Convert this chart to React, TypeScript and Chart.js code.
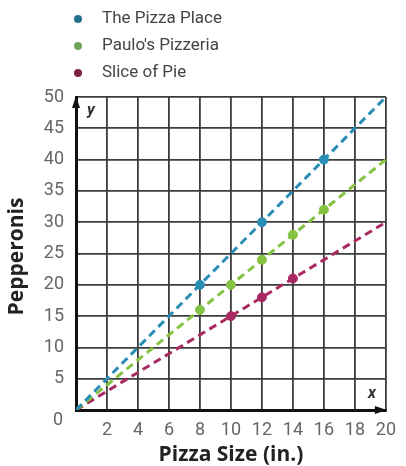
import { useEffect, useRef } from 'react';
import { Chart, registerables } from 'chart.js';

Chart.register(...registerables);

// Series
const seriesNames = ['The Pizza Place', "Paulo's Pizzeria", 'Slice of Pie'];
const seriesColors = ['#2a8db3', '#84c341', '#a92a62'];
const legendDotColors = ['#236f8c', '#6fa35a', '#7e2348'];

// Plotted pairs (pizza size in inches, pepperonis)
const pizzaPlaceSizes = [8, 12, 16];
const pizzaPlacePepperonis = [20, 30, 40];
const paulosSizes = [8, 10, 12, 14, 16];
const paulosPepperonis = [16, 20, 24, 28, 32];
const sliceSizes = [10, 12, 14];
const slicePepperonis = [15, 18, 21];

// Dashed rate lines through the origin
const lineSizes = [0, 20];
const pizzaPlaceLine = [0, 50];
const paulosLine = [0, 40];
const sliceLine = [0, 30];

// Axes
const xTicks = [2, 4, 6, 8, 10, 12, 14, 16, 18, 20];
const yTicks = [5, 10, 15, 20, 25, 30, 35, 40, 45, 50];
const xTitle = 'Pizza Size (in.)';
const yTitle = 'Pepperonis';

const FONT = 'Roboto, "Open Sans", sans-serif';
const TITLE_FONT = '"Open Sans", Roboto, sans-serif';

const pairs = (xs: number[], ys: number[]) => xs.map((x, i) => ({ x, y: ys[i] }));

const decorPlugin = {
  id: 'decor',
  afterDraw(chart: any) {
    const { ctx, chartArea } = chart;
    const { left, right, top, bottom } = chartArea;
    ctx.save();

    // arrow heads on the axes
    ctx.fillStyle = '#111';
    ctx.beginPath();
    ctx.moveTo(left, top - 1);
    ctx.lineTo(left - 4, top + 11);
    ctx.lineTo(left + 4, top + 11);
    ctx.closePath();
    ctx.fill();
    ctx.beginPath();
    ctx.moveTo(right + 1, bottom);
    ctx.lineTo(right - 11, bottom - 4);
    ctx.lineTo(right - 11, bottom + 4);
    ctx.closePath();
    ctx.fill();

    // axis variable names
    ctx.fillStyle = '#333';
    ctx.font = `italic bold 16px ${FONT}`;
    ctx.textAlign = 'center';
    ctx.textBaseline = 'middle';
    ctx.fillText('y', left + 15, top + 14);
    ctx.fillText('x', right - 14, bottom - 16);

    // origin label
    ctx.fillStyle = '#666';
    ctx.font = `18px ${FONT}`;
    ctx.fillText('0', left - 18, bottom + 10);

    // axis titles
    ctx.fillStyle = '#222';
    ctx.font = `bold 21px ${TITLE_FONT}`;
    ctx.fillText(xTitle, (left + right) / 2, 455);
    ctx.save();
    ctx.translate(17, (top + bottom) / 2 + 3);
    ctx.rotate(-Math.PI / 2);
    ctx.fillText(yTitle, 0, 0);
    ctx.restore();

    // legend
    const rows = [19, 46, 73];
    ctx.textAlign = 'left';
    ctx.font = `17px ${FONT}`;
    seriesNames.forEach((name, i) => {
      ctx.fillStyle = legendDotColors[i];
      ctx.beginPath();
      ctx.arc(78, rows[i], 4, 0, Math.PI * 2);
      ctx.fill();
      ctx.fillStyle = '#444';
      ctx.fillText(name, 102, rows[i]);
    });

    ctx.restore();
  },
};

export default function App() {
  const canvasRef = useRef<HTMLCanvasElement | null>(null);

  useEffect(() => {
    if (!canvasRef.current) return;
    const lineDataset = (ys: number[], color: string) => ({
      type: 'line' as const,
      data: pairs(lineSizes, ys),
      borderColor: color,
      borderWidth: 3,
      borderDash: [8, 5],
      pointRadius: 0,
      fill: false,
      order: 2,
    });
    const pointDataset = (label: string, xs: number[], ys: number[], color: string) => ({
      type: 'scatter' as const,
      label,
      data: pairs(xs, ys),
      backgroundColor: color,
      borderColor: color,
      pointRadius: 4.5,
      order: 1,
    });

    const chart = new Chart(canvasRef.current, {
      type: 'scatter',
      data: {
        datasets: [
          pointDataset(seriesNames[0], pizzaPlaceSizes, pizzaPlacePepperonis, seriesColors[0]),
          pointDataset(seriesNames[1], paulosSizes, paulosPepperonis, seriesColors[1]),
          pointDataset(seriesNames[2], sliceSizes, slicePepperonis, seriesColors[2]),
          lineDataset(pizzaPlaceLine, seriesColors[0]),
          lineDataset(paulosLine, seriesColors[1]),
          lineDataset(sliceLine, seriesColors[2]),
        ] as any,
      },
      options: {
        animation: false,
        responsive: true,
        maintainAspectRatio: false,
        layout: { padding: { top: 97, right: 14, left: 0, bottom: 0 } },
        plugins: { legend: { display: false }, tooltip: { enabled: false } },
        scales: {
          x: {
            type: 'linear',
            min: 0,
            max: 20,
            afterFit: (scale: any) => {
              scale.height = 56;
            },
            afterBuildTicks: (scale: any) => {
              scale.ticks = [0, ...xTicks].map((v) => ({ value: v }));
            },
            ticks: {
              padding: 10,
              color: '#666',
              font: { family: FONT, size: 18 },
              maxRotation: 0,
              autoSkip: false,
              callback: (v: any) => (xTicks.includes(Number(v)) ? String(v) : ''),
            },
            grid: { color: '#3c3c3c', lineWidth: 1.8, drawTicks: false },
            border: { display: true, color: '#111', width: 3 },
          },
          y: {
            type: 'linear',
            min: 0,
            max: 50,
            afterFit: (scale: any) => {
              scale.width = 76;
            },
            afterBuildTicks: (scale: any) => {
              scale.ticks = [0, ...yTicks].map((v) => ({ value: v }));
            },
            ticks: {
              padding: 12,
              color: '#666',
              font: { family: FONT, size: 18 },
              autoSkip: false,
              callback: (v: any) => (yTicks.includes(Number(v)) ? String(v) : ''),
            },
            grid: { color: '#3c3c3c', lineWidth: 1.8, drawTicks: false },
            border: { display: true, color: '#111', width: 3 },
          },
        },
      },
      plugins: [decorPlugin],
    });
    return () => chart.destroy();
  }, []);

  return (
    <div style={{ position: 'fixed', left: 0, top: 0, width: 406, height: 466, background: '#fff' }}>
      <canvas ref={canvasRef} />
    </div>
  );
}
